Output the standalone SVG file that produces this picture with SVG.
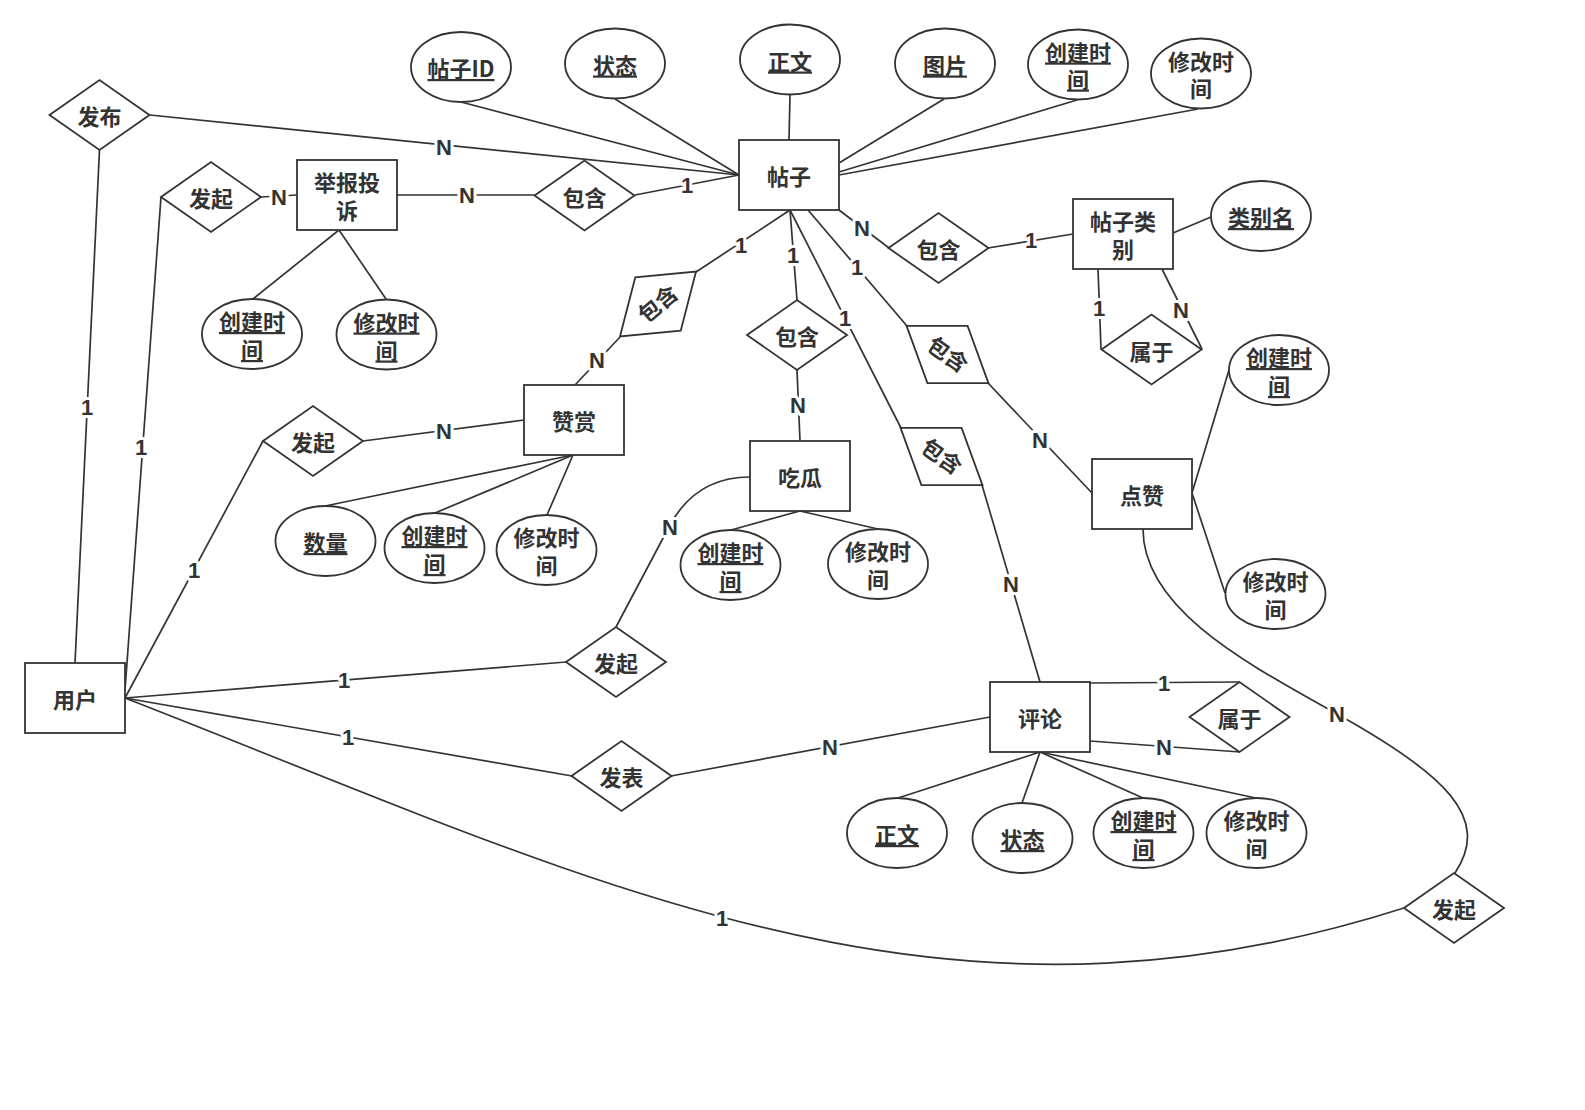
<svg xmlns="http://www.w3.org/2000/svg" width="1585" height="1110" viewBox="0 0 1585 1110">
<style>
.s{fill:#fff;stroke:#333;stroke-width:1.8}
.t{font-family:"Noto Sans CJK SC","Liberation Sans",sans-serif;font-size:22px;font-weight:bold;fill:#333;text-anchor:middle}
.u{text-decoration:underline}
.e{fill:none;stroke:#333;stroke-width:1.7}
.l{font-family:"Liberation Sans",Arial,sans-serif;font-size:22px;font-weight:bold;fill:#333;text-anchor:middle;stroke:#fff;stroke-width:6;stroke-linejoin:round;paint-order:stroke}
</style>
<defs>
<polygon id="dm" points="-50,0 0,-35 50,0 0,35"/>
</defs>
<rect width="1585" height="1110" fill="#fff"/>

<!-- connectors -->
<g id="connectors">
<path class="e" d="M739,175 L461,102"/>
<path class="e" d="M739,175 L615,99"/>
<path class="e" d="M739,175 L150,115"/>
<path class="e" d="M739,175 L635,195"/>
<path class="e" d="M789,140 L790,95"/>
<path class="e" d="M839,163 L944,99"/>
<path class="e" d="M839,172 L1077,100"/>
<path class="e" d="M839,175 L1198,109"/>
<path class="e" d="M790,210 L696,272"/>
<path class="e" d="M790,210 L797,300"/>
<path class="e" d="M790,210 L901,428"/>
<path class="e" d="M808,210 L907,326"/>
<path class="e" d="M839,210 L889,248"/>
<path class="e" d="M988,248 L1073,234"/>
<path class="e" d="M1173,233 L1211,217"/>
<path class="e" d="M1098,269 L1101,349"/>
<path class="e" d="M1162,269 L1202,349"/>
<path class="e" d="M620,337 L575,385"/>
<path class="e" d="M797,370 L800,441"/>
<path class="e" d="M988,383 L1092,493"/>
<path class="e" d="M982,485 L1040,682"/>
<path class="e" d="M99.5,150 L75,663"/>
<path class="e" d="M161,197 L125,690"/>
<path class="e" d="M261,197 L297,195"/>
<path class="e" d="M397,195 L534,195"/>
<path class="e" d="M339,230 L253,299"/>
<path class="e" d="M339,230 L386,299"/>
<path class="e" d="M125,698 L263,441"/>
<path class="e" d="M363,441 L524,420"/>
<path class="e" d="M573,455 L325,506"/>
<path class="e" d="M573,455 L435,513"/>
<path class="e" d="M573,455 L547,515"/>
<path class="e" d="M800,511 L731,530"/>
<path class="e" d="M800,511 L878,529"/>
<path class="e" d="M750,477 C715,477 688,492 670,525 L616,627"/>
<path class="e" d="M125,698 L566,662"/>
<path class="e" d="M125,698 L572,776"/>
<path class="e" d="M671,776 L990,717"/>
<path class="e" d="M1090,683 L1240,682"/>
<path class="e" d="M1090,741 L1240,752"/>
<path class="e" d="M1040,752 L898,798"/>
<path class="e" d="M1040,752 L1022,803"/>
<path class="e" d="M1040,752 L1143,798"/>
<path class="e" d="M1040,752 L1256,798"/>
<path class="e" d="M1192,493 L1229,370"/>
<path class="e" d="M1192,493 L1225,593"/>
<path class="e" d="M1143,529 C1143,610 1250,665 1337,714 C1445,774 1492,818 1455,873"/>
<path class="e" d="M125,698 C595,881 934,1058 1404,908"/>

<text class="l" x="444" y="155">N</text>
<text class="l" x="687" y="193">1</text>
<text class="l" x="279" y="205">N</text>
<text class="l" x="467" y="203">N</text>
<text class="l" x="741" y="253">1</text>
<text class="l" x="793" y="263">1</text>
<text class="l" x="845" y="326">1</text>
<text class="l" x="857" y="275">1</text>
<text class="l" x="862" y="236">N</text>
<text class="l" x="1031" y="248">1</text>
<text class="l" x="1099" y="316">1</text>
<text class="l" x="1181" y="318">N</text>
<text class="l" x="597" y="368">N</text>
<text class="l" x="798" y="413">N</text>
<text class="l" x="1040" y="448">N</text>
<text class="l" x="1011" y="592">N</text>
<text class="l" x="87" y="415">1</text>
<text class="l" x="141" y="455">1</text>
<text class="l" x="194" y="578">1</text>
<text class="l" x="444" y="439">N</text>
<text class="l" x="670" y="535">N</text>
<text class="l" x="344" y="688">1</text>
<text class="l" x="348" y="745">1</text>
<text class="l" x="830" y="755">N</text>
<text class="l" x="1164" y="691">1</text>
<text class="l" x="1164" y="755">N</text>
<text class="l" x="1337" y="722">N</text>
<text class="l" x="722" y="926">1</text>
</g>

<!-- post entity and its attributes -->
<g id="n-post"><rect class="s" x="739" y="140" width="100" height="70"/><text class="t" x="789" y="185">帖子</text></g>
<g id="a-post-id"><ellipse class="s" cx="461" cy="67" rx="50" ry="35"/><text class="t u" x="461" y="77">帖子ID</text></g>
<g id="a-post-state"><ellipse class="s" cx="615" cy="63.5" rx="50" ry="35"/><text class="t u" x="615" y="73.5">状态</text></g>
<g id="a-post-body"><ellipse class="s" cx="790" cy="59.5" rx="50" ry="35"/><text class="t u" x="790" y="69.5">正文</text></g>
<g id="a-post-img"><ellipse class="s" cx="945" cy="63.5" rx="50" ry="35"/><text class="t u" x="945" y="73.5">图片</text></g>
<g id="a-post-ctime"><ellipse class="s" cx="1078" cy="64.5" rx="50" ry="35"/><text class="t u" x="1078" y="60.5">创建时</text><text class="t u" x="1078" y="87.5">间</text></g>
<g id="a-post-mtime"><ellipse class="s" cx="1201" cy="73.5" rx="50" ry="35"/><text class="t" x="1201" y="69.5">修改时</text><text class="t" x="1201" y="96.5">间</text></g>

<!-- publish -->
<g id="r-publish"><use href="#dm" class="s" x="99.5" y="115"/><text class="t" x="99.5" y="125">发布</text></g>

<!-- report -->
<g id="r-report-start"><use href="#dm" class="s" x="211" y="197"/><text class="t" x="211" y="207">发起</text></g>
<g id="n-report"><rect class="s" x="297" y="160" width="100" height="70"/><text class="t" x="347" y="191">举报投</text><text class="t" x="347" y="219">诉</text></g>
<g id="r-report-post"><use href="#dm" class="s" x="584.5" y="195.5"/><text class="t" x="584.5" y="205.5">包含</text></g>
<g id="a-report-ctime"><ellipse class="s" cx="252" cy="334" rx="50" ry="35"/><text class="t u" x="252" y="330">创建时</text><text class="t u" x="252" y="358">间</text></g>
<g id="a-report-mtime"><ellipse class="s" cx="386.5" cy="334.5" rx="50" ry="35"/><text class="t u" x="386.5" y="330.5">修改时</text><text class="t u" x="386.5" y="358.5">间</text></g>

<!-- reward -->
<g id="r-post-reward" transform="translate(658,304) rotate(-40.5)"><use href="#dm" class="s"/><text class="t" x="0" y="8">包含</text></g>
<g id="n-reward"><rect class="s" x="524" y="385" width="100" height="70"/><text class="t" x="574" y="430">赞赏</text></g>
<g id="r-reward-start"><use href="#dm" class="s" x="313" y="441"/><text class="t" x="313" y="451">发起</text></g>
<g id="a-reward-amount"><ellipse class="s" cx="325.5" cy="541" rx="50" ry="35"/><text class="t u" x="325.5" y="551">数量</text></g>
<g id="a-reward-ctime"><ellipse class="s" cx="434.5" cy="548" rx="50" ry="35"/><text class="t u" x="434.5" y="544">创建时</text><text class="t u" x="434.5" y="572">间</text></g>
<g id="a-reward-mtime"><ellipse class="s" cx="546.5" cy="550" rx="50" ry="35"/><text class="t" x="546.5" y="546">修改时</text><text class="t" x="546.5" y="574">间</text></g>

<!-- gossip -->
<g id="r-post-gossip"><use href="#dm" class="s" x="797" y="335"/><text class="t" x="797" y="345">包含</text></g>
<g id="n-gossip"><rect class="s" x="750" y="441" width="100" height="70"/><text class="t" x="800" y="486">吃瓜</text></g>
<g id="a-gossip-ctime"><ellipse class="s" cx="730.5" cy="565" rx="50" ry="35"/><text class="t u" x="730.5" y="561">创建时</text><text class="t u" x="730.5" y="589">间</text></g>
<g id="a-gossip-mtime"><ellipse class="s" cx="878" cy="564" rx="50" ry="35"/><text class="t" x="878" y="560">修改时</text><text class="t" x="878" y="588">间</text></g>
<g id="r-gossip-start"><use href="#dm" class="s" x="616" y="662"/><text class="t" x="616" y="672">发起</text></g>

<!-- category -->
<g id="r-post-category"><use href="#dm" class="s" x="938.5" y="248"/><text class="t" x="938.5" y="258">包含</text></g>
<g id="n-category"><rect class="s" x="1073" y="199" width="100" height="70"/><text class="t" x="1123" y="230">帖子类</text><text class="t" x="1123" y="258">别</text></g>
<g id="a-category-name"><ellipse class="s" cx="1261" cy="216" rx="50" ry="35"/><text class="t u" x="1261" y="226">类别名</text></g>
<g id="r-category-parent"><use href="#dm" class="s" x="1151.5" y="349.5"/><text class="t" x="1151.5" y="359.5">属于</text></g>

<!-- like -->
<g id="r-post-like" transform="translate(947.5,354.5) rotate(35)"><use href="#dm" class="s"/><text class="t" x="0" y="8">包含</text></g>
<g id="n-like"><rect class="s" x="1092" y="459" width="100" height="70"/><text class="t" x="1142" y="504">点赞</text></g>
<g id="a-like-ctime"><ellipse class="s" cx="1279" cy="370" rx="50" ry="35"/><text class="t u" x="1279" y="366">创建时</text><text class="t u" x="1279" y="394">间</text></g>
<g id="a-like-mtime"><ellipse class="s" cx="1275.5" cy="594" rx="50" ry="35"/><text class="t" x="1275.5" y="590">修改时</text><text class="t" x="1275.5" y="618">间</text></g>
<g id="r-like-start"><use href="#dm" class="s" x="1454" y="908"/><text class="t" x="1454" y="918">发起</text></g>

<!-- comment -->
<g id="r-post-comment" transform="translate(941.5,456.5) rotate(35)"><use href="#dm" class="s"/><text class="t" x="0" y="8">包含</text></g>
<g id="n-comment"><rect class="s" x="990" y="682" width="100" height="70"/><text class="t" x="1040" y="727">评论</text></g>
<g id="r-comment-parent"><use href="#dm" class="s" x="1239.5" y="717"/><text class="t" x="1239.5" y="727">属于</text></g>
<g id="r-comment-post"><use href="#dm" class="s" x="621.5" y="776"/><text class="t" x="621.5" y="786">发表</text></g>
<g id="a-comment-body"><ellipse class="s" cx="897" cy="833" rx="50" ry="35"/><text class="t u" x="897" y="843">正文</text></g>
<g id="a-comment-state"><ellipse class="s" cx="1022.5" cy="838" rx="50" ry="35"/><text class="t u" x="1022.5" y="848">状态</text></g>
<g id="a-comment-ctime"><ellipse class="s" cx="1143.5" cy="833" rx="50" ry="35"/><text class="t u" x="1143.5" y="829">创建时</text><text class="t u" x="1143.5" y="857">间</text></g>
<g id="a-comment-mtime"><ellipse class="s" cx="1256.5" cy="833" rx="50" ry="35"/><text class="t" x="1256.5" y="829">修改时</text><text class="t" x="1256.5" y="857">间</text></g>

<!-- user -->
<g id="n-user"><rect class="s" x="25" y="663" width="100" height="70"/><text class="t" x="75" y="708">用户</text></g>
</svg>
